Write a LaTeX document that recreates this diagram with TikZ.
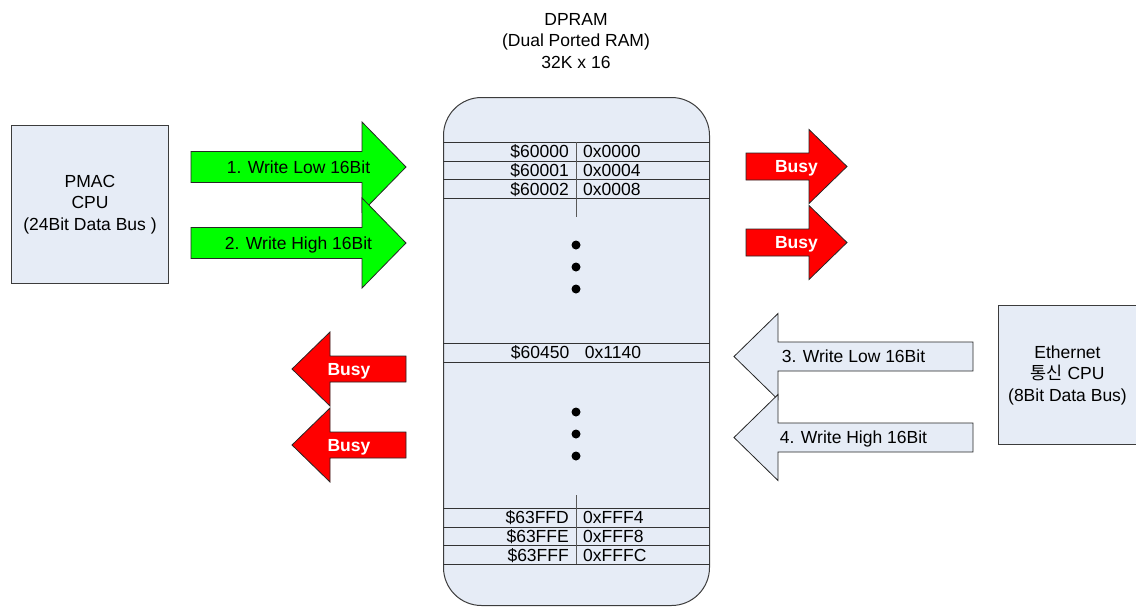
\documentclass[tikz,border=0pt]{standalone}
\usepackage{fontspec}
\setmainfont{Liberation Sans}
\newfontfamily\krfont{Noto Sans CJK KR}
\definecolor{boxfill}{RGB}{230,236,246}
\definecolor{edgegray}{RGB}{60,60,60}
\definecolor{wgreen}{RGB}{0,255,0}
\definecolor{wred}{RGB}{255,0,0}
\tikzset{
  txt/.style={font=\fontsize{17.5}{21.5}\selectfont, inner sep=0pt, align=center},
  onetxt/.style={txt, text height=12.5pt, text depth=0pt},
  cpubox/.style={draw=edgegray, line width=1pt, fill=boxfill, anchor=north west, inner sep=0pt},
  rambox/.style={draw=edgegray, line width=1pt, fill=boxfill, rounded corners=38pt, anchor=north west, inner sep=0pt},
  rowline/.style={draw=black!80, line width=1pt},
  writearrow/.style={draw=black!85, line width=0.8pt, fill=wgreen},
  busyarrow/.style={draw=black!85, line width=0.8pt, fill=wred},
  readarrow/.style={draw=black!85, line width=0.8pt, fill=boxfill},
  busytxt/.style={onetxt, text=white, font=\fontsize{17.5}{21.5}\selectfont\bfseries},
  celltxt/.style={onetxt},
}
% block arrow: style, label style, shaft end x, head base x, tip x, centre y,
% half shaft width, half head width, label
\newcommand\blockarrow[9]{%
  \draw[#1] (#3,{#6-#7}) -- (#4,{#6-#7}) -- (#4,{#6-#8}) -- (#5,#6)
    -- (#4,{#6+#8}) -- (#4,{#6+#7}) -- (#3,{#6+#7}) -- cycle;
  \node[#2] at ({(#3+#5)/2},#6) {#9};%
}
\begin{document}
\begin{tikzpicture}[x=1pt,y=-1pt]
\useasboundingbox (0,0) rectangle (1136,606);

% title of the memory block
\node[txt] (title) at (576,41) {DPRAM\\(Dual Ported RAM)\\32K x 16};

% the two processors
\node[cpubox, minimum width=157pt, minimum height=158pt] (pmac) at (11,125) {};
\node[txt] (pmactxt) at (pmac.center) {PMAC\\CPU\\(24Bit Data Bus )};
\node[cpubox, minimum width=138pt, minimum height=139pt] (eth) at (998,305) {};
\node[txt] (ethtxt) at (eth.center) {Ethernet\\{\krfont 통신} CPU\\(8Bit Data Bus)};

% dual ported RAM
\node[rambox, minimum width=266pt, minimum height=508pt] (ram) at (443,97) {};

% first address rows
\foreach \y in {142,161,179.5,198} \draw[rowline] (ram.west |- 0,\y) -- (ram.east |- 0,\y);
\draw[rowline, draw=black!65] (576,142) -- (576,217);
\node[celltxt, anchor=east] (a0) at (569,151.5) {\$60000};
\node[celltxt, anchor=west] (b0) at (583,151.5) {0x0000};
\node[celltxt, anchor=east] (a1) at (569,170.2) {\$60001};
\node[celltxt, anchor=west] (b1) at (583,170.2) {0x0004};
\node[celltxt, anchor=east] (a2) at (569,188.8) {\$60002};
\node[celltxt, anchor=west] (b2) at (583,188.8) {0x0008};

\foreach \y in {245,267,289} \fill (576,\y) circle (4.5);

% middle row
\foreach \y in {343,362} \draw[rowline] (ram.west |- 0,\y) -- (ram.east |- 0,\y);
\node[celltxt] (mid) at (576,352.5) {\$60450\hspace{0.9em}0x1140};

\foreach \y in {412,434,456} \fill (576,\y) circle (4.5);

% last address rows
\foreach \y in {508,527,545.5,564} \draw[rowline] (ram.west |- 0,\y) -- (ram.east |- 0,\y);
\draw[rowline, draw=black!65] (576,495) -- (576,564);
\node[celltxt, anchor=east] (c0) at (569,517.5) {\$63FFD};
\node[celltxt, anchor=west] (d0) at (583,517.5) {0xFFF4};
\node[celltxt, anchor=east] (c1) at (569,536.2) {\$63FFE};
\node[celltxt, anchor=west] (d1) at (583,536.2) {0xFFF8};
\node[celltxt, anchor=east] (c2) at (569,554.8) {\$63FFF};
\node[celltxt, anchor=west] (d2) at (583,554.8) {0xFFFC};

% PMAC side writes
\blockarrow{writearrow}{onetxt}{191}{362}{406}{167}{15.5}{45}{1. Write Low 16Bit}
\blockarrow{writearrow}{onetxt}{191}{362}{406}{243}{15.5}{45}{2. Write High 16Bit}
\blockarrow{busyarrow}{busytxt}{746}{809}{847}{166.5}{13.5}{37}{Busy}
\blockarrow{busyarrow}{busytxt}{746}{809}{847}{242.5}{13.5}{37}{Busy}

% Ethernet side writes
\blockarrow{readarrow}{onetxt}{973}{778}{734}{356.5}{14.5}{43}{3. Write Low 16Bit}
\blockarrow{readarrow}{onetxt}{973}{778}{734}{437.5}{14.5}{43}{4. Write High 16Bit}
\blockarrow{busyarrow}{busytxt}{406}{330}{292}{369}{13}{37}{Busy}
\blockarrow{busyarrow}{busytxt}{406}{330}{292}{445}{13}{37}{Busy}
\end{tikzpicture}
\end{document}
